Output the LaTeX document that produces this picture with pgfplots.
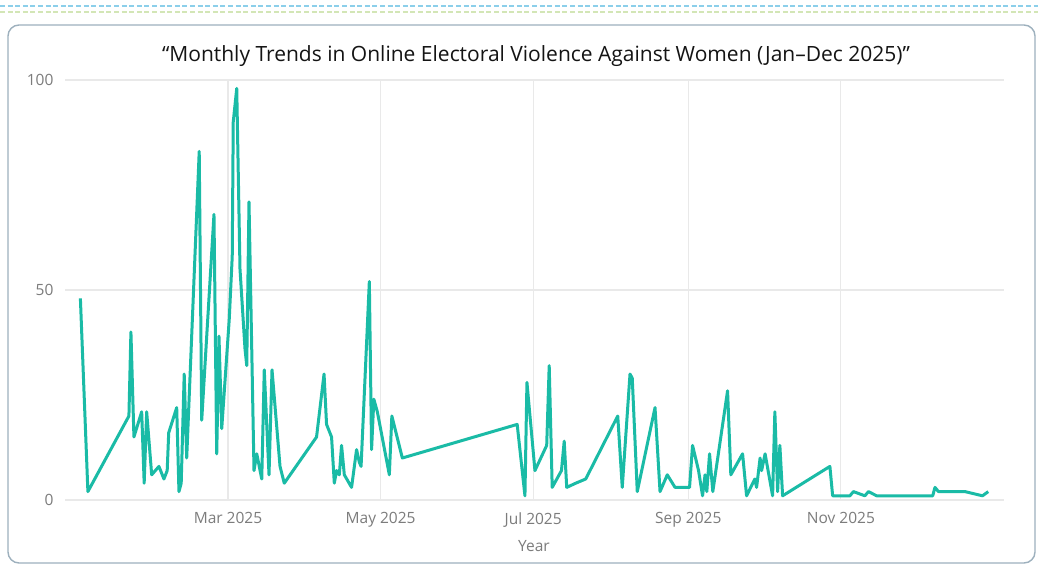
\documentclass[border=0pt]{standalone}
\usepackage{pgfplots}
\pgfplotsset{compat=1.18}
\usepackage{fontspec}
\setmainfont{Open Sans}

\definecolor{linecol}{HTML}{1ABBA6}
\definecolor{gridcol}{HTML}{E9E9E9}
\definecolor{framecol}{HTML}{9DB0BD}
\definecolor{ticktext}{HTML}{7C7C7C}
\definecolor{dashblue}{HTML}{8CCFEA}
\definecolor{dashgreen}{HTML}{D3E6B6}

% day of year (1 Jan = 0) and incident count
\pgfplotstableread{
day value
0 48
3 2
19.4 20
20.2 40
21.4 15
24.5 21
25.5 4
26.5 21
28.5 6
31.4 8
33.4 5
34.7 7
35.3 16
38.5 22
39.4 2
40.3 4
41.5 30
42.5 10
47.5 83
48.5 19
53.4 68
54.5 11
55.4 39
56.5 17
59.5 43
60.7 58
61.1 90
62.5 98
63.8 55
65.8 36
66.5 32
67.4 71
69.4 7
70.5 11
72.5 5
73.5 31
75.4 6
76.6 31
79.8 8
81.5 4
94.4 15
97.4 30
98.4 18
100.4 15
101.5 4
102.4 7
103.5 6
104.4 13
105.5 6
108.4 3
110.4 12
111.5 9
112.2 8
115.5 52
116.4 12
117.3 24
118.7 21
123.5 6
124.5 20
128.7 10
174.6 18
177.7 1
178.5 28
181.7 7
186.4 13
187.4 32
188.6 3
192.3 7
193.4 14
194.4 3
198 4
202 5
214.8 20
216.6 3
219.7 30
220.6 29
222.6 2
229.7 22
231.7 2
234.6 6
237.7 3
243.5 3
244.7 13
247.1 7
248.7 1
249.7 6
250.4 2
251.5 11
252.8 2
258.7 26
260 6
264.7 11
266.3 1
269.6 5
270.3 3
271.7 10
272.3 7
273.7 11
276.7 1
277.6 21
278.7 2
279.6 13
280.7 1
299.6 8
300.7 1
307.6 1
309 2
313.6 1
315 2
318.3 1
340.7 1
341.6 3
343 2
353.6 2
360.6 1
362.9 2
}\incidents

\begin{document}
\begin{tikzpicture}
\useasboundingbox (0pt,0pt) rectangle (1038pt,565pt);
% decorative dashed rules above the card
\draw[dashblue, line width=2.2pt, dash pattern=on 5pt off 2.6pt] (0pt,559pt) -- (1038pt,559pt);
\draw[dashgreen, line width=2pt, dash pattern=on 5pt off 2.6pt] (0pt,553pt) -- (1038pt,553pt);
% card frame
\draw[framecol, line width=1.4pt, rounded corners=11pt, fill=white] (8pt,2pt) rectangle (1035pt,540pt);
% title
\node[font=\fontsize{21}{25}\selectfont, text=black!92] at (536pt,509pt) {“Monthly Trends in Online Electoral Violence Against Women (Jan–Dec 2025)”};

\begin{axis}[
  at={(65pt,65pt)}, anchor=south west,
  scale only axis, width=939pt, height=420pt,
  xmin=-6.15, xmax=369.2, ymin=0, ymax=100,
  clip=false,
  axis line style={draw=none},
  tick style={draw=none},
  grid=major,
  major grid style={gridcol, line width=1.1pt},
  xtick={59,120,181,243,304},
  xticklabels={Mar 2025,May 2025,Jul 2025,Sep 2025,Nov 2025},
  ytick={0,50,100},
  /pgf/number format/assume math mode=true,
  ticklabel style={font=\fontsize{15.5}{18}\selectfont, text=ticktext},
  yticklabel style={xshift=-8pt},
  xticklabel style={yshift=-9pt},
]
\addplot[linecol, line width=3pt, line join=round] table[x=day, y=value] {\incidents};
\end{axis}
\node[font=\fontsize{15.5}{18}\selectfont, text=ticktext] at (534pt,19pt) {Year};
\end{tikzpicture}
\end{document}
